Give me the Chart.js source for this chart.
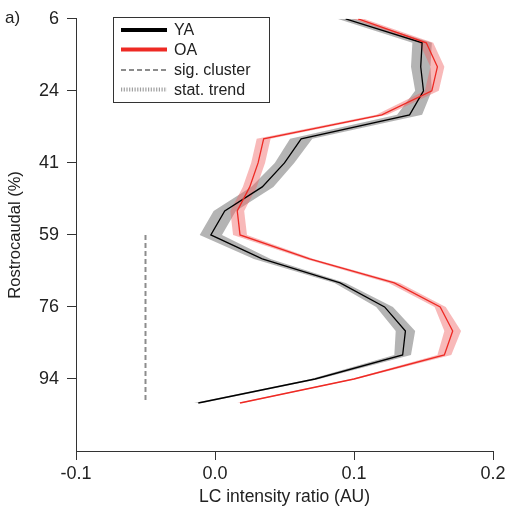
<!DOCTYPE html>
<html><head><meta charset="utf-8">
<script src="https://cdn.jsdelivr.net/npm/chart.js@4/dist/chart.umd.min.js"></script>
<style>html,body{margin:0;padding:0;background:#fff;overflow:hidden}</style>
</head><body>
<canvas id="c" width="509" height="515" style="display:block;width:509px;height:515px"></canvas>
<script>
// Rostrocaudal positions (% of LC length), 17 slices
const positions = [5.88, 11.76, 17.65, 23.53, 29.41, 35.29, 41.18, 47.06, 52.94, 58.82, 64.71, 70.59, 76.47, 82.35, 88.24, 94.12, 100.0];
// Younger adults (YA): mean and standard error
const yaMean = [0.094, 0.149, 0.148, 0.150, 0.140, 0.062, 0.050, 0.034, 0.007, -0.003, 0.034, 0.090, 0.122, 0.137, 0.135, 0.072, -0.012];
const yaSE   = [0.006, 0.007, 0.007, 0.006, 0.009, 0.008, 0.007, 0.008, 0.008, 0.008, 0.006, 0.004, 0.006, 0.007, 0.006, 0.003, 0.003];
// Older adults (OA): mean and standard error
const oaMean = [0.103, 0.152, 0.160, 0.156, 0.120, 0.035, 0.031, 0.025, 0.016, 0.018, 0.068, 0.129, 0.162, 0.171, 0.165, 0.100, 0.018];
const oaSE   = [0.004, 0.005, 0.005, 0.005, 0.004, 0.005, 0.005, 0.005, 0.005, 0.005, 0.003, 0.004, 0.004, 0.006, 0.005, 0.002, 0.002];
// significant cluster marker
const sigClusterX = -0.05;
const sigClusterRange = [58.82, 100.0];
// axis ticks
const yTickValues = [5.88, 23.53, 41.18, 58.82, 76.47, 94.12];
const yTickLabels = ['6', '24', '41', '59', '76', '94'];
const xTickValues = [-0.1, 0.0, 0.1, 0.2];
const xTickLabels = ['-0.1', '0.0', '0.1', '0.2'];
const legendLabels = ['YA', 'OA', 'sig. cluster', 'stat. trend'];

const FONT = "'Liberation Sans Narrow', 'Arial Narrow', 'Liberation Sans', Arial, sans-serif";

const pts = (vals, off, sign) => positions.map((p, i) => ({x: vals[i] + (off ? sign * off[i] : 0), y: p}));

const legendPlugin = {
  id: 'customLegend',
  afterDraw(chart) {
    const ctx = chart.ctx;
    ctx.save();
    // panel label
    ctx.fillStyle = '#222';
    ctx.font = '17px ' + FONT;
    ctx.textBaseline = 'middle';
    ctx.textAlign = 'left';
    ctx.fillText('a)', 5, 18);
    // legend box
    const bx = 113, by = 17, bw = 156, bh = 85;
    ctx.strokeStyle = '#333';
    ctx.lineWidth = 1;
    ctx.strokeRect(bx + 0.5, by + 0.5, bw, bh);
    const rows = [30, 49.5, 70, 89.5];
    const styles = [
      {c: '#000', w: 4, d: []},
      {c: '#ee2a24', w: 4, d: []},
      {c: '#8c8c8c', w: 2, d: [5, 3]},
      {c: '#a0a0a0', w: 4, d: [1.2, 1.5]}
    ];
    rows.forEach((y, i) => {
      const s = styles[i];
      ctx.beginPath();
      ctx.setLineDash(s.d);
      ctx.strokeStyle = s.c;
      ctx.lineWidth = s.w;
      ctx.moveTo(121, y);
      ctx.lineTo(167, y);
      ctx.stroke();
      ctx.setLineDash([]);
      ctx.fillStyle = '#222';
      ctx.font = '16px ' + FONT;
      ctx.fillText(legendLabels[i], 174, y + 1);
    });
    ctx.restore();
  }
};

new Chart(document.getElementById('c'), {
  type: 'line',
  data: {
    datasets: [
      {data: pts(yaMean, yaSE, -1), borderWidth: 0, pointRadius: 0, fill: false, order: 5},
      {data: pts(yaMean, yaSE, 1), borderWidth: 0, pointRadius: 0, fill: '-1', backgroundColor: 'rgba(140,140,140,0.65)', order: 5},
      {data: pts(oaMean, oaSE, -1), borderWidth: 0, pointRadius: 0, fill: false, order: 4},
      {data: pts(oaMean, oaSE, 1), borderWidth: 0, pointRadius: 0, fill: '-1', backgroundColor: 'rgba(240,100,100,0.45)', order: 4},
      {label: 'YA', data: pts(yaMean), borderColor: '#000', borderWidth: 1.3, pointRadius: 0, fill: false, order: 2},
      {label: 'OA', data: pts(oaMean), borderColor: '#ee2a24', borderWidth: 1.3, pointRadius: 0, fill: false, order: 1},
      {label: 'sig. cluster', data: sigClusterRange.map(p => ({x: sigClusterX, y: p})), borderColor: '#8c8c8c', borderWidth: 2, borderDash: [5, 3], pointRadius: 0, fill: false, order: 3}
    ]
  },
  options: {
    indexAxis: 'y',
    responsive: false,
    animation: false,
    devicePixelRatio: 1,
    layout: {padding: {top: 17, right: 16, left: 0, bottom: 0}},
    elements: {line: {tension: 0}},
    plugins: {legend: {display: false}, tooltip: {enabled: false}},
    scales: {
      x: {
        type: 'linear', position: 'bottom', min: -0.1, max: 0.2,
        afterBuildTicks: s => { s.ticks = xTickValues.map(v => ({value: v})); },
        afterFit: s => { s.height = 64; },
        ticks: {callback: (v, i) => xTickLabels[i], color: '#222', font: {family: FONT, size: 18}, padding: 3, maxRotation: 0, autoSkip: false},
        grid: {drawOnChartArea: false, drawTicks: true, tickLength: 9, color: '#333', lineWidth: 1},
        border: {display: true, color: '#333', width: 1},
        title: {display: true, text: 'LC intensity ratio (AU)', color: '#222', font: {family: FONT, size: 17.5}, padding: {top: 0, bottom: 7}}
      },
      y: {
        type: 'linear', position: 'left', reverse: true, min: 5.88, max: 111.76,
        afterBuildTicks: s => { s.ticks = yTickValues.map(v => ({value: v})); },
        afterFit: s => { s.width = 76; },
        ticks: {callback: (v, i) => yTickLabels[i], color: '#222', font: {family: FONT, size: 18}, padding: 8, autoSkip: false},
        grid: {drawOnChartArea: false, drawTicks: true, tickLength: 9, color: '#333', lineWidth: 1},
        border: {display: true, color: '#333', width: 1},
        title: {display: true, text: 'Rostrocaudal (%)', color: '#222', font: {family: FONT, size: 16.5}, padding: {top: 6, bottom: 0}}
      }
    }
  },
  plugins: [legendPlugin]
});
</script>
</body></html>
